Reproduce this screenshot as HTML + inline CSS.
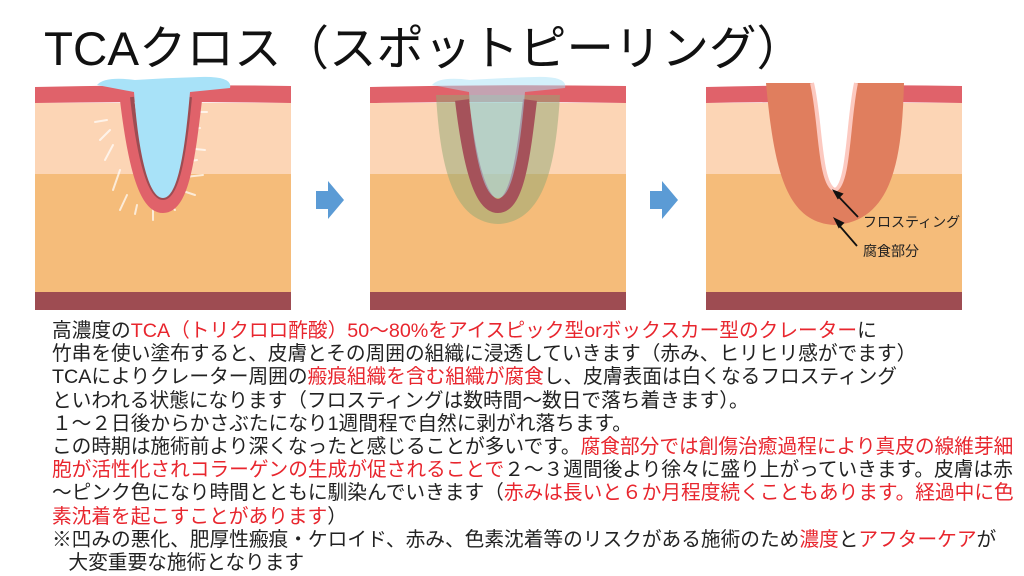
<!DOCTYPE html>
<html><head><meta charset="utf-8"><style>
body{margin:0;width:1024px;height:576px;background:#fff;overflow:hidden;position:relative;font-family:"Liberation Sans","Noto Sans CJK JP",sans-serif;color:#222}
.t{position:absolute;left:44px;top:10px;font-size:47.5px;white-space:nowrap;color:#111}
.tx{position:absolute;left:52px;top:320px;font-size:19.7px;line-height:23.2px;white-space:nowrap}
.r{color:#e8262e}
svg{position:absolute;left:0;top:0}
</style></head><body>
<div class="t">TCAクロス（スポットピーリング）</div>
<svg width="1024" height="320" viewBox="0 0 1024 320">
<defs>
<g id="skin">
<rect x="0" y="103" width="256" height="72" fill="#fcd5b5"/>
<rect x="0" y="174" width="256" height="118" fill="#f5bc7a"/>
<rect x="0" y="292" width="256" height="18" fill="#9e4c52"/>
<path d="M0,87 Q128,84 256,86 L256,103 Q128,101 0,103Z" fill="#e0626a"/>
</g>
</defs>
<g transform="translate(35,0)">
<use href="#skin"/>
<g stroke="#fff" stroke-opacity="0.7" stroke-width="2" stroke-linecap="round">
<line x1="60" y1="122" x2="72" y2="120"/><line x1="65" y1="140" x2="75" y2="130"/><line x1="70" y1="160" x2="78" y2="145"/><line x1="78" y1="190" x2="85" y2="170"/><line x1="85" y1="210" x2="92" y2="195"/><line x1="100" y1="214" x2="102" y2="205"/><line x1="118" y1="220" x2="118" y2="210"/><line x1="140" y1="210" x2="132" y2="202"/><line x1="160" y1="195" x2="145" y2="190"/><line x1="168" y1="175" x2="150" y2="177"/><line x1="170" y1="150" x2="150" y2="148"/><line x1="165" y1="128" x2="150" y2="130"/><line x1="172" y1="112" x2="158" y2="112"/><line x1="162" y1="160" x2="150" y2="162"/>
</g>
<path d="M92,100 C98,150 108,206 128,206 C148,206 154,150 160,100" fill="none" stroke="#e0626a" stroke-width="14"/>
<path d="M97,97 C103,150 113,198 128,198 C143,198 150,150 155,97" fill="none" stroke="#9e4c52" stroke-width="4"/>
<path d="M62,85 Q70,76 100,80 Q130,78 165,77 Q198,76 195,88 L155,92 C150,150 143,198 128,198 C113,198 103,150 99,92 Z" fill="#a8e2f8"/>
</g>
<g transform="translate(370,0)">
<use href="#skin"/>
<path d="M66,95 C70,160 80,222 128,224 C176,222 186,160 190,95 Z" fill="#8fa874" fill-opacity="0.5"/>
<path d="M92,100 C98,150 108,206 128,206 C148,206 154,150 160,100" fill="none" stroke="#a5525a" stroke-width="14"/>
<path d="M62,85 Q70,76 100,80 Q130,78 165,77 Q198,76 195,88 L155,92 C150,150 143,198 128,198 C113,198 103,150 99,92 Z" fill="#a8e2f8" fill-opacity="0.5"/>
</g>
<g transform="translate(706,0)">
<use href="#skin"/>
<path d="M60,83 L106,83 C115,120 113,185 129,190 C143,185 142,120 150,83 L198,83 C196,150 190,222 128,225 C80,222 68,170 60,83Z" fill="#e07e5e"/>
<path d="M106,83 C115,120 113,185 129,190 C143,185 142,120 150,83" fill="#fff" stroke="#fcc9c0" stroke-width="4"/>
<g stroke="#111" stroke-width="1.8" fill="#111">
<line x1="152" y1="217" x2="131" y2="195"/><path d="M128,191 l8,3 l-4,4z"/>
<line x1="151" y1="246" x2="132" y2="224"/><path d="M129,219 l8,4 l-4,4z"/>
</g>
<text x="157" y="227" font-size="14" fill="#222" font-family="Liberation Sans,Noto Sans CJK JP,sans-serif">フロスティング</text>
<text x="157" y="256" font-size="14" fill="#222" font-family="Liberation Sans,Noto Sans CJK JP,sans-serif">腐食部分</text>
</g>
<path d="M316,191 h12 v-10 l16,19 l-16,19 v-10 h-12z" fill="#5b9bd5"/>
<path d="M650,191 h12 v-10 l16,19 l-16,19 v-10 h-12z" fill="#5b9bd5"/>
</svg>
<div class="tx">
<div>高濃度の<span class="r">TCA（トリクロロ酢酸）50～80%をアイスピック型orボックスカー型のクレーター</span>に</div>
<div>竹串を使い塗布すると、皮膚とその周囲の組織に浸透していきます（赤み、ヒリヒリ感がでます）</div>
<div>TCAによりクレーター周囲の<span class="r">瘢痕組織を含む組織が腐食</span>し、皮膚表面は白くなるフロスティング</div>
<div>といわれる状態になります（フロスティングは数時間～数日で落ち着きます）。</div>
<div>１～２日後からかさぶたになり1週間程で自然に剥がれ落ちます。</div>
<div>この時期は施術前より深くなったと感じることが多いです。<span class="r">腐食部分では創傷治癒過程により真皮の線維芽細</span></div>
<div><span class="r">胞が活性化されコラーゲンの生成が促されることで</span>２～３週間後より徐々に盛り上がっていきます。皮膚は赤</div>
<div>～ピンク色になり時間とともに馴染んでいきます（<span class="r">赤みは長いと６か月程度続くこともあります。経過中に色</span></div>
<div><span class="r">素沈着を起こすことがあります</span>）</div>
<div>※凹みの悪化、肥厚性瘢痕・ケロイド、赤み、色素沈着等のリスクがある施術のため<span class="r">濃度</span>と<span class="r">アフターケア</span>が</div>
<div>&nbsp;&nbsp;&nbsp;大変重要な施術となります</div>
</div>
</body></html>
